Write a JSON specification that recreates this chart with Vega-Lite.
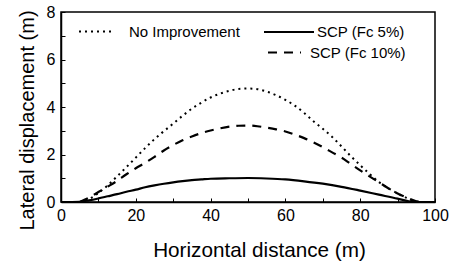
{
  "$schema": "https://vega.github.io/schema/vega-lite/v6.json",
  "width": 374,
  "height": 190,
  "autosize": {"type": "none"},
  "padding": {"left": 61, "top": 12, "right": 27, "bottom": 64},
  "background": "white",
  "config": {
    "view": {"stroke": "black", "strokeWidth": 1.5},
    "font": "Liberation Sans"
  },
  "data": {
    "values": [
      {"series": "No Improvement", "x": 5, "y": 0},
      {"series": "No Improvement", "x": 7.5, "y": 0.12},
      {"series": "No Improvement", "x": 10, "y": 0.38},
      {"series": "No Improvement", "x": 12.5, "y": 0.7},
      {"series": "No Improvement", "x": 15, "y": 1.08},
      {"series": "No Improvement", "x": 17.5, "y": 1.47},
      {"series": "No Improvement", "x": 20, "y": 1.87},
      {"series": "No Improvement", "x": 22.5, "y": 2.27},
      {"series": "No Improvement", "x": 25, "y": 2.65},
      {"series": "No Improvement", "x": 27.5, "y": 2.98},
      {"series": "No Improvement", "x": 30, "y": 3.3},
      {"series": "No Improvement", "x": 32.5, "y": 3.63},
      {"series": "No Improvement", "x": 35, "y": 3.93},
      {"series": "No Improvement", "x": 37.5, "y": 4.18},
      {"series": "No Improvement", "x": 40, "y": 4.4},
      {"series": "No Improvement", "x": 42.5, "y": 4.56},
      {"series": "No Improvement", "x": 45, "y": 4.68},
      {"series": "No Improvement", "x": 47.5, "y": 4.76},
      {"series": "No Improvement", "x": 50, "y": 4.78},
      {"series": "No Improvement", "x": 52.5, "y": 4.75},
      {"series": "No Improvement", "x": 55, "y": 4.65},
      {"series": "No Improvement", "x": 57.5, "y": 4.5},
      {"series": "No Improvement", "x": 60, "y": 4.3},
      {"series": "No Improvement", "x": 62.5, "y": 4.06},
      {"series": "No Improvement", "x": 65, "y": 3.75},
      {"series": "No Improvement", "x": 67.5, "y": 3.4},
      {"series": "No Improvement", "x": 70, "y": 3.08},
      {"series": "No Improvement", "x": 72.5, "y": 2.74},
      {"series": "No Improvement", "x": 75, "y": 2.34},
      {"series": "No Improvement", "x": 77.5, "y": 1.93},
      {"series": "No Improvement", "x": 80, "y": 1.55},
      {"series": "No Improvement", "x": 82.5, "y": 1.18},
      {"series": "No Improvement", "x": 85, "y": 0.84},
      {"series": "No Improvement", "x": 87.5, "y": 0.58},
      {"series": "No Improvement", "x": 90, "y": 0.36},
      {"series": "No Improvement", "x": 92.5, "y": 0.17},
      {"series": "No Improvement", "x": 95, "y": 0.02},
      {"series": "No Improvement", "x": 97, "y": 0},
      {"series": "SCP (Fc 10%)", "x": 5, "y": 0},
      {"series": "SCP (Fc 10%)", "x": 7.5, "y": 0.18},
      {"series": "SCP (Fc 10%)", "x": 10, "y": 0.42},
      {"series": "SCP (Fc 10%)", "x": 12.5, "y": 0.65},
      {"series": "SCP (Fc 10%)", "x": 15, "y": 0.89},
      {"series": "SCP (Fc 10%)", "x": 17.5, "y": 1.17},
      {"series": "SCP (Fc 10%)", "x": 20, "y": 1.42},
      {"series": "SCP (Fc 10%)", "x": 22.5, "y": 1.65},
      {"series": "SCP (Fc 10%)", "x": 25, "y": 1.9},
      {"series": "SCP (Fc 10%)", "x": 27.5, "y": 2.17},
      {"series": "SCP (Fc 10%)", "x": 30, "y": 2.4},
      {"series": "SCP (Fc 10%)", "x": 32.5, "y": 2.6},
      {"series": "SCP (Fc 10%)", "x": 35, "y": 2.76},
      {"series": "SCP (Fc 10%)", "x": 37.5, "y": 2.9},
      {"series": "SCP (Fc 10%)", "x": 40, "y": 3.01},
      {"series": "SCP (Fc 10%)", "x": 42.5, "y": 3.1},
      {"series": "SCP (Fc 10%)", "x": 45, "y": 3.17},
      {"series": "SCP (Fc 10%)", "x": 47.5, "y": 3.21},
      {"series": "SCP (Fc 10%)", "x": 50, "y": 3.22},
      {"series": "SCP (Fc 10%)", "x": 52.5, "y": 3.19},
      {"series": "SCP (Fc 10%)", "x": 55, "y": 3.13},
      {"series": "SCP (Fc 10%)", "x": 57.5, "y": 3.06},
      {"series": "SCP (Fc 10%)", "x": 60, "y": 2.97},
      {"series": "SCP (Fc 10%)", "x": 62.5, "y": 2.84},
      {"series": "SCP (Fc 10%)", "x": 65, "y": 2.69},
      {"series": "SCP (Fc 10%)", "x": 67.5, "y": 2.51},
      {"series": "SCP (Fc 10%)", "x": 70, "y": 2.31},
      {"series": "SCP (Fc 10%)", "x": 72.5, "y": 2.09},
      {"series": "SCP (Fc 10%)", "x": 75, "y": 1.87},
      {"series": "SCP (Fc 10%)", "x": 77.5, "y": 1.6},
      {"series": "SCP (Fc 10%)", "x": 80, "y": 1.33},
      {"series": "SCP (Fc 10%)", "x": 82.5, "y": 1.08},
      {"series": "SCP (Fc 10%)", "x": 85, "y": 0.83},
      {"series": "SCP (Fc 10%)", "x": 87.5, "y": 0.58},
      {"series": "SCP (Fc 10%)", "x": 90, "y": 0.36},
      {"series": "SCP (Fc 10%)", "x": 92.5, "y": 0.18},
      {"series": "SCP (Fc 10%)", "x": 95, "y": 0.03},
      {"series": "SCP (Fc 10%)", "x": 97, "y": 0},
      {"series": "SCP (Fc 5%)", "x": 0, "y": 0},
      {"series": "SCP (Fc 5%)", "x": 5, "y": 0.01},
      {"series": "SCP (Fc 5%)", "x": 7.5, "y": 0.07},
      {"series": "SCP (Fc 5%)", "x": 10, "y": 0.15},
      {"series": "SCP (Fc 5%)", "x": 12.5, "y": 0.24},
      {"series": "SCP (Fc 5%)", "x": 15, "y": 0.33},
      {"series": "SCP (Fc 5%)", "x": 17.5, "y": 0.43},
      {"series": "SCP (Fc 5%)", "x": 20, "y": 0.52},
      {"series": "SCP (Fc 5%)", "x": 22.5, "y": 0.62},
      {"series": "SCP (Fc 5%)", "x": 25, "y": 0.7},
      {"series": "SCP (Fc 5%)", "x": 27.5, "y": 0.77},
      {"series": "SCP (Fc 5%)", "x": 30, "y": 0.83},
      {"series": "SCP (Fc 5%)", "x": 32.5, "y": 0.88},
      {"series": "SCP (Fc 5%)", "x": 35, "y": 0.92},
      {"series": "SCP (Fc 5%)", "x": 37.5, "y": 0.95},
      {"series": "SCP (Fc 5%)", "x": 40, "y": 0.98},
      {"series": "SCP (Fc 5%)", "x": 45, "y": 1.0},
      {"series": "SCP (Fc 5%)", "x": 50, "y": 1.01},
      {"series": "SCP (Fc 5%)", "x": 55, "y": 0.99},
      {"series": "SCP (Fc 5%)", "x": 60, "y": 0.95},
      {"series": "SCP (Fc 5%)", "x": 65, "y": 0.87},
      {"series": "SCP (Fc 5%)", "x": 70, "y": 0.77},
      {"series": "SCP (Fc 5%)", "x": 75, "y": 0.64},
      {"series": "SCP (Fc 5%)", "x": 80, "y": 0.48},
      {"series": "SCP (Fc 5%)", "x": 85, "y": 0.31},
      {"series": "SCP (Fc 5%)", "x": 90, "y": 0.14},
      {"series": "SCP (Fc 5%)", "x": 93, "y": 0.03},
      {"series": "SCP (Fc 5%)", "x": 95, "y": 0},
      {"series": "SCP (Fc 5%)", "x": 100, "y": 0}
    ]
  },
  "encoding": {
    "x": {
      "field": "x",
      "type": "quantitative",
      "scale": {"domain": [0, 100], "nice": false},
      "axis": {
        "title": "Horizontal distance (m)",
        "values": [0, 10, 20, 30, 40, 50, 60, 70, 80, 90, 100],
        "labelExpr": "datum.value % 20 === 0 ? datum.label : ''",
        "labelOverlap": false,
        "labelFlush": false,
        "grid": false,
        "tickSize": -4,
        "labelPadding": 9,
        "domainColor": "black",
        "domainWidth": 1.5,
        "tickColor": "black",
        "labelColor": "black",
        "labelFontSize": 16,
        "titleFontSize": 20.7,
        "titleFontWeight": "normal",
        "titleColor": "black",
        "titleBaseline": "top",
        "titleX": 198,
        "titleY": 38
      }
    },
    "y": {
      "field": "y",
      "type": "quantitative",
      "scale": {"domain": [0, 8], "nice": false},
      "axis": {
        "title": "Lateral displacement (m)",
        "values": [0, 1, 2, 3, 4, 5, 6, 7, 8],
        "labelExpr": "datum.value % 2 === 0 ? datum.label : ''",
        "labelOverlap": false,
        "labelFlush": false,
        "grid": false,
        "tickSize": -4,
        "labelPadding": 10,
        "domainColor": "black",
        "domainWidth": 1.5,
        "tickColor": "black",
        "labelColor": "black",
        "labelFontSize": 16,
        "titleFontSize": 20,
        "titleFontWeight": "normal",
        "titleColor": "black",
        "titleBaseline": "bottom",
        "titleX": -24,
        "titleY": 108
      }
    }
  },
  "layer": [
    {
      "transform": [{"filter": "datum.series === 'No Improvement'"}],
      "mark": {"type": "line", "color": "black", "strokeWidth": 2, "interpolate": "monotone"},
      "encoding": {
        "strokeDash": {
          "field": "series",
          "type": "nominal",
          "scale": {"domain": ["No Improvement"], "range": [[2, 4]]},
          "legend": {
            "orient": "none",
            "legendX": 17,
            "legendY": 1,
            "title": null,
            "padding": 0,
            "symbolType": "stroke",
            "symbolSize": 1225,
            "symbolStrokeWidth": 2,
            "symbolStrokeColor": "black",
            "labelFontSize": 15,
            "labelColor": "black",
            "labelOffset": 14
          }
        }
      }
    },
    {
      "transform": [{"filter": "datum.series === 'SCP (Fc 5%)'"}],
      "mark": {"type": "line", "color": "black", "strokeWidth": 2.2, "interpolate": "monotone"},
      "encoding": {
        "opacity": {
          "field": "series",
          "type": "nominal",
          "scale": {"domain": ["SCP (Fc 5%)"], "range": [1]},
          "legend": {
            "orient": "none",
            "legendX": 202,
            "legendY": -6,
            "title": null,
            "padding": 0,
            "symbolType": "stroke",
            "symbolSize": 2500,
            "symbolStrokeWidth": 2,
            "symbolStrokeColor": "black",
            "symbolOpacity": 1,
            "labelFontSize": 15,
            "labelColor": "black",
            "labelOffset": 2
          }
        }
      }
    },
    {
      "transform": [{"filter": "datum.series === 'SCP (Fc 10%)'"}],
      "mark": {"type": "line", "color": "black", "strokeWidth": 2.2, "interpolate": "monotone"},
      "encoding": {
        "strokeDash": {
          "field": "series",
          "type": "nominal",
          "scale": {"domain": ["SCP (Fc 10%)"], "range": [[9, 7]]},
          "legend": {
            "orient": "none",
            "legendX": 206,
            "legendY": 23,
            "title": null,
            "padding": 0,
            "symbolType": "stroke",
            "symbolSize": 1089,
            "symbolStrokeWidth": 2,
            "symbolStrokeColor": "black",
            "labelFontSize": 15,
            "labelColor": "black",
            "labelOffset": 8
          }
        }
      }
    }
  ],
  "resolve": {
    "scale": {"strokeDash": "independent", "opacity": "independent"},
    "legend": {"strokeDash": "independent", "opacity": "independent"}
  }
}
